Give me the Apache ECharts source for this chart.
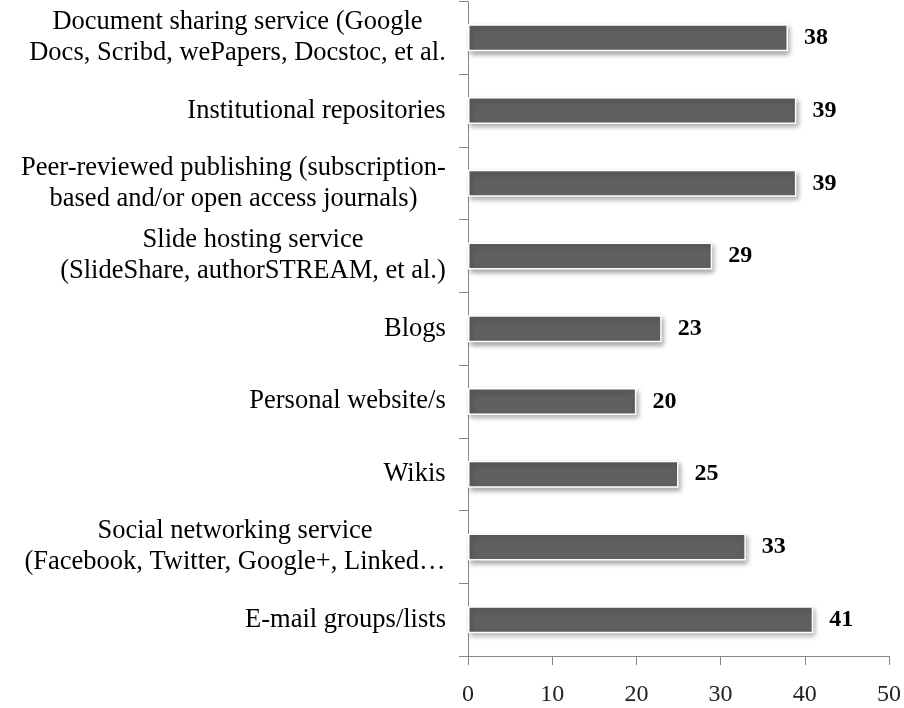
<!DOCTYPE html>
<html>
<head>
<meta charset="utf-8">
<script src="https://cdn.jsdelivr.net/npm/echarts@6/dist/echarts.min.js"></script>
<style>html,body{margin:0;padding:0;background:#fff}#c{width:904px;height:708px}</style>
</head>
<body>
<div id="c"></div>
<script>
const categories = [
  "Document sharing service (Google\nDocs, Scribd, wePapers, Docstoc, et al.",
  "Institutional repositories",
  "Peer-reviewed publishing (subscription-\nbased and/or open access journals)",
  "Slide hosting service\n(SlideShare, authorSTREAM, et al.)",
  "Blogs",
  "Personal website/s",
  "Wikis",
  "Social networking service\n(Facebook, Twitter, Google+, Linked\u2026",
  "E-mail groups/lists"
];
const values = [38, 39, 39, 29, 23, 20, 25, 33, 41];
const xTicks = [0, 10, 20, 30, 40, 50];

const FONT = '"Liberation Serif", "Times New Roman", serif';
const CAT_SIZE = 26.5;
const cv = document.createElement('canvas').getContext('2d');
cv.font = CAT_SIZE + 'px ' + FONT;
const rich = {};
categories.forEach((c, i) => {
  const w = Math.max(...c.split('\n').map(s => cv.measureText(s).width));
  rich['l' + i] = { width: Math.ceil(w), align: 'center', fontSize: CAT_SIZE, fontFamily: FONT, color: '#000', lineHeight: 31 };
});

const chart = echarts.init(document.getElementById('c'));
chart.setOption({
  animation: false,
  grid: { left: 468, right: 15, top: 1.5, bottom: 52 },
  xAxis: {
    type: 'value', min: xTicks[0], max: xTicks[xTicks.length - 1], interval: 10,
    splitLine: { show: false },
    axisLine: { show: true, lineStyle: { color: '#868686', width: 1 } },
    axisTick: { show: true, length: 9, lineStyle: { color: '#868686' } },
    axisLabel: { margin: 27, fontSize: 24, fontFamily: FONT, color: '#222' }
  },
  yAxis: {
    type: 'category', inverse: true, data: categories,
    axisLine: { show: true, lineStyle: { color: '#868686', width: 1 } },
    axisTick: { show: true, length: 9, lineStyle: { color: '#868686' } },
    axisLabel: {
      margin: 22,
      formatter: (v, i) => v.split('\n').map(s => '{l' + i + '|' + s + '}').join('\n'),
      rich: rich
    }
  },
  series: [{
    type: 'bar', data: values, barWidth: 27,
    itemStyle: {
      color: '#606060', borderColor: '#ffffff', borderWidth: 1.5,
      shadowColor: 'rgba(0,0,0,0.35)', shadowBlur: 5, shadowOffsetX: 2, shadowOffsetY: 3
    },
    label: {
      show: true, position: 'right', distance: 16,
      fontSize: 24, fontWeight: 'bold', fontFamily: FONT, color: '#000'
    }
  }]
});
</script>
</body>
</html>
